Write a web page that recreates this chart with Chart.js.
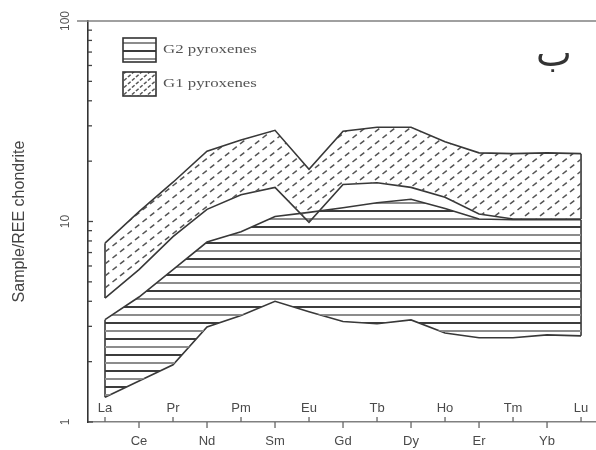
<!DOCTYPE html>
<html>
<head>
<meta charset="utf-8">
<script src="https://cdn.jsdelivr.net/npm/chart.js@4.4.1/dist/chart.umd.min.js"></script>
<style>
  html, body { margin: 0; padding: 0; background: #fff; }
  #wrap { width: 596px; height: 450px; }
</style>
</head>
<body>
<div id="wrap"><canvas id="reeChart"></canvas></div>
<script>
// REE order along the x axis
var ree = ['La', 'Ce', 'Pr', 'Nd', 'Pm', 'Sm', 'Eu', 'Gd', 'Tb', 'Dy', 'Ho', 'Er', 'Tm', 'Yb', 'Lu'];
// envelope of the G1 pyroxenes (hatched band)
var g1Upper = [7.8, 11.2, 15.7, 22.4, 25.5, 28.5, 18.2, 28.2, 29.5, 29.5, 25.0, 22.0, 21.8, 22.0, 21.8];
var g1Lower = [4.15, 5.75, 8.4, 11.5, 13.6, 14.8, 9.9, 15.3, 15.6, 14.8, 13.2, 10.9, 10.3, 10.3, 10.3];
// envelope of the G2 pyroxenes (striped band)
var g2Upper = [3.24, 4.2, 5.75, 7.9, 8.9, 10.6, 11.1, 11.7, 12.4, 12.9, 11.6, 10.3, 10.2, 10.2, 10.2];
var g2Lower = [1.33, 1.6, 1.93, 2.98, 3.4, 4.0, 3.55, 3.17, 3.09, 3.23, 2.78, 2.63, 2.63, 2.72, 2.69];
var yTicks = [1, 10, 100];
var legendNames = ['G2 pyroxenes', 'G1 pyroxenes'];
var panelMark = 'ب';

function makeStripes() {
    var c = document.createElement('canvas');
    c.width = 4; c.height = 16;
    var g = c.getContext('2d');
    g.fillStyle = '#3c3c3c';
    g.fillRect(0, 2, 4, 2);
    g.fillStyle = '#8c8c8c';
    g.fillRect(0, 10, 4, 2);
    return g.createPattern(c, 'repeat');
}

function makeHatch(w, h, dash) {
    var c = document.createElement('canvas');
    c.width = w; c.height = h;
    var g = c.getContext('2d');
    g.strokeStyle = '#555';
    g.lineWidth = 1.5;
    g.setLineDash(dash);
    [-w, 0, w].forEach(function (dx) {
        g.beginPath();
        g.moveTo(dx - w, 2 * h);
        g.lineTo(dx + 2 * w, -h);
        g.stroke();
    });
    return g.createPattern(c, 'repeat');
}

var stripes = makeStripes();
var hatch = makeHatch(15, 12, [5.5, 4.1]);
var hatchSmall = makeHatch(8, 7, [3.5, 1.8]);

function pts(arr) {
    return arr.map(function (v, i) { return { x: i, y: v }; });
}
function edge(i, a, b) {
    return [{ x: i, y: a[i] }, { x: i, y: b[i] }];
}

var last = ree.length - 1;
var lineStyle = { borderColor: '#383838', borderWidth: 1.6, pointRadius: 0, tension: 0 };

var datasets = [
    Object.assign({ label: 'G1 upper', data: pts(g1Upper), fill: '+1', backgroundColor: hatch }, lineStyle),
    Object.assign({ label: 'G1 lower', data: pts(g1Lower), fill: false }, lineStyle),
    Object.assign({ label: 'G2 upper', data: pts(g2Upper), fill: '+1', backgroundColor: stripes }, lineStyle),
    Object.assign({ label: 'G2 lower', data: pts(g2Lower), fill: false }, lineStyle),
    Object.assign({ label: 'e1', data: edge(0, g1Upper, g1Lower), fill: false }, lineStyle),
    Object.assign({ label: 'e2', data: edge(last, g1Upper, g1Lower), fill: false }, lineStyle),
    Object.assign({ label: 'e3', data: edge(0, g2Upper, g2Lower), fill: false }, lineStyle),
    Object.assign({ label: 'e4', data: edge(last, g2Upper, g2Lower), fill: false }, lineStyle)
];

var decorPlugin = {
    id: 'decor',
    afterDraw: function (chart) {
        var ctx = chart.ctx;
        var xs = chart.scales.x, ys = chart.scales.y;
        var area = chart.chartArea;
        var axisY = ys.getPixelForValue(1);
        ctx.save();

        // top frame line
        ctx.strokeStyle = '#808080';
        ctx.lineWidth = 1.5;
        ctx.beginPath();
        ctx.moveTo(area.left - 11, ys.getPixelForValue(100));
        ctx.lineTo(area.right, ys.getPixelForValue(100));
        ctx.stroke();

        // inward y ticks on the log scale
        ctx.strokeStyle = '#444';
        ctx.lineWidth = 1.3;
        for (var d = 1; d < 100; d *= 10) {
            for (var m = 1; m <= 9; m++) {
                var py = ys.getPixelForValue(d * m);
                ctx.beginPath();
                ctx.moveTo(area.left, py);
                ctx.lineTo(area.left + (m === 1 ? 5 : 4), py);
                ctx.stroke();
            }
        }

        // y tick labels, rotated
        ctx.fillStyle = '#555';
        ctx.font = '12px "Liberation Sans"';
        ctx.textAlign = 'center';
        ctx.textBaseline = 'middle';
        yTicks.forEach(function (v) {
            ctx.save();
            ctx.translate(area.left - 22, ys.getPixelForValue(v));
            ctx.rotate(-Math.PI / 2);
            ctx.fillText(String(v), 0, 0);
            ctx.restore();
        });

        // x ticks and two rows of element labels
        ctx.strokeStyle = '#666';
        ctx.lineWidth = 1.3;
        ctx.fillStyle = '#4a4a4a';
        ctx.font = '13px "Liberation Sans"';
        ree.forEach(function (name, i) {
            var px = xs.getPixelForValue(i);
            var up = i % 2 === 0;
            ctx.beginPath();
            ctx.moveTo(px, axisY);
            ctx.lineTo(px, up ? axisY - 5 : axisY + 6);
            ctx.stroke();
            ctx.fillText(name, px, up ? axisY - 14 : axisY + 19);
        });

        // legend
        var boxes = [stripes, hatchSmall];
        legendNames.forEach(function (name, k) {
            var bx = 123, by = 38 + k * 34, bw = 33, bh = 24;
            ctx.fillStyle = boxes[k];
            ctx.fillRect(bx, by, bw, bh);
            ctx.strokeStyle = '#333';
            ctx.lineWidth = 1.6;
            ctx.strokeRect(bx, by, bw, bh);
            ctx.save();
            ctx.fillStyle = '#555';
            ctx.font = '12px "Liberation Serif"';
            ctx.textAlign = 'left';
            ctx.translate(bx + 40, by + bh / 2);
            ctx.scale(1.4, 1);
            ctx.fillText(name, 0, 0);
            ctx.restore();
        });

        // panel letter
        ctx.fillStyle = '#333';
        ctx.font = '38px "DejaVu Sans"';
        ctx.textAlign = 'center';
        ctx.fillText(panelMark, 554, 56);

        ctx.restore();
    }
};

new Chart(document.getElementById('reeChart'), {
    type: 'line',
    data: { datasets: datasets },
    plugins: [decorPlugin],
    options: {
        responsive: true,
        maintainAspectRatio: false,
        animation: false,
        layout: { padding: { top: 21, right: 0, bottom: 0, left: 0 } },
        plugins: {
            legend: { display: false },
            tooltip: { enabled: false }
        },
        scales: {
            x: {
                type: 'linear',
                min: -0.5,
                max: 14.44,
                ticks: { display: false },
                grid: { display: true, drawOnChartArea: false, drawTicks: false },
                border: { display: true, color: '#808080', width: 1.5 },
                afterFit: function (s) { s.height = 28; }
            },
            y: {
                type: 'logarithmic',
                min: 1,
                max: 100,
                ticks: { display: false },
                grid: { display: true, drawOnChartArea: false, drawTicks: false },
                border: { display: true, color: '#333', width: 1.6 },
                title: {
                    display: true,
                    text: 'Sample/REE chondrite',
                    color: '#444',
                    font: { family: 'Liberation Sans', size: 16 },
                    padding: { top: 10, bottom: 0 }
                },
                afterFit: function (s) { s.width = 88; }
            }
        }
    }
});
</script>
</body>
</html>
